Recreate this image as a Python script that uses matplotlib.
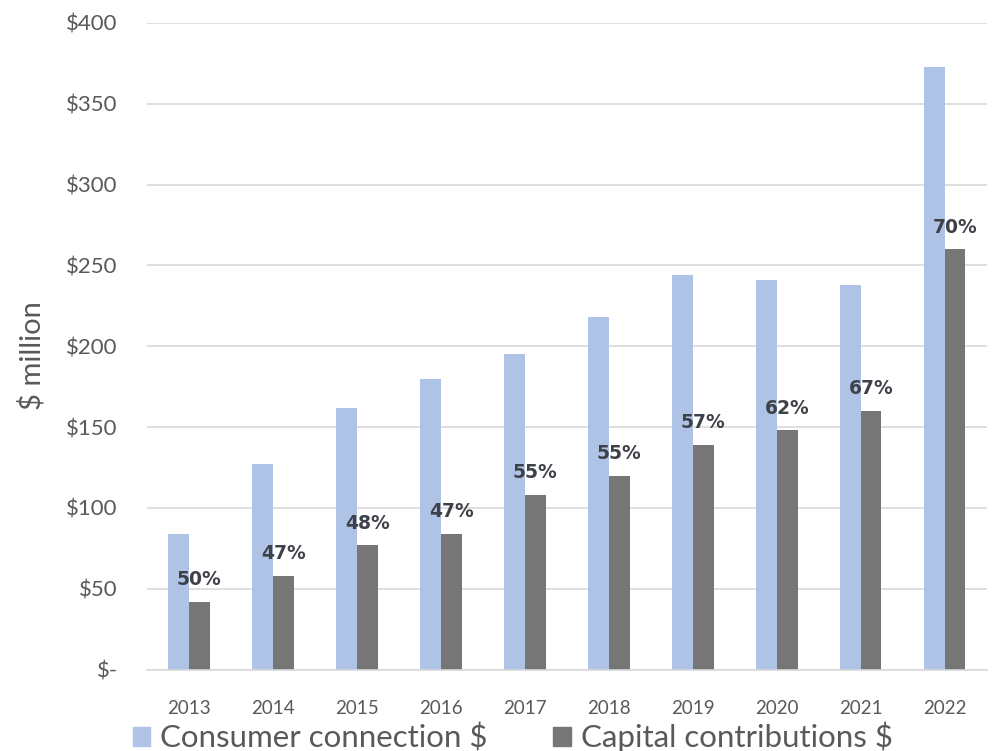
import numpy as np
import matplotlib
matplotlib.use("Agg")
import matplotlib.pyplot as plt
from matplotlib.patches import Patch

plt.rcParams['font.family'] = ['Lato', 'DejaVu Sans']

years = ['2013', '2014', '2015', '2016', '2017', '2018', '2019', '2020', '2021', '2022']
consumer = [84, 127, 162, 180, 195, 218, 244, 241, 238, 373]
capital = [42, 58, 77, 84, 108, 120, 139, 148, 160, 260]
pct_labels = ['50%', '47%', '48%', '47%', '55%', '55%', '57%', '62%', '67%', '70%']

blue = '#aec3e6'
grey = '#767676'
text_grey = '#595959'

fig = plt.figure(figsize=(9.99, 7.51), dpi=100)
ax = fig.add_axes([0.1471, 0.1085, 0.8408, 0.8609])

x = np.arange(len(years))
w = 0.245
ax.bar(x - w / 2, consumer, w, color=blue, zorder=2)
ax.bar(x + w / 2, capital, w, color=grey, zorder=2)

# share of consumer connection funded by capital contributions
for xi, val, lab in zip(x, capital, pct_labels):
    ax.annotate(lab, (xi + w / 2, val), xytext=(0, 9), textcoords='offset points',
                ha='center', va='bottom', fontsize=13.5, fontweight='bold',
                family='DejaVu Sans', color='#3f4148')

ax.set_xlim(-0.5, len(years) - 0.5)
ax.set_ylim(0, 400)
ax.set_yticks(range(0, 401, 50))
ax.set_yticklabels(['$-'] + ['${}'.format(v) for v in range(50, 401, 50)])
ax.set_xticks(x)
ax.set_xticklabels(years)
ax.tick_params(axis='y', length=0, pad=21, labelsize=16, labelcolor=text_grey)
ax.tick_params(axis='x', length=0, pad=22, labelsize=13.5, labelcolor=text_grey)
ax.grid(axis='y', color='#d9d9d9', linewidth=1.2, zorder=0)
ax.set_axisbelow(True)
for side in ['top', 'right', 'left']:
    ax.spines[side].set_visible(False)
ax.spines['bottom'].set_color('#d9d9d9')
ax.spines['bottom'].set_linewidth(1.2)

ax.set_ylabel('$ million', fontsize=21, color=text_grey)
ax.yaxis.set_label_coords(-0.121, 0.486)

handles = [Patch(color=blue, label='Consumer connection $'),
           Patch(color=grey, label='Capital contributions $')]
fig.legend(handles=handles, loc='center left', bbox_to_anchor=(0.133, 0.0186), ncol=2,
           frameon=False, fontsize=22.5, handlelength=0.55, handleheight=0.55,
           handletextpad=0.33, columnspacing=2.1, borderpad=0, borderaxespad=0,
           labelcolor=text_grey)

fig.savefig('out.png', dpi=100)
